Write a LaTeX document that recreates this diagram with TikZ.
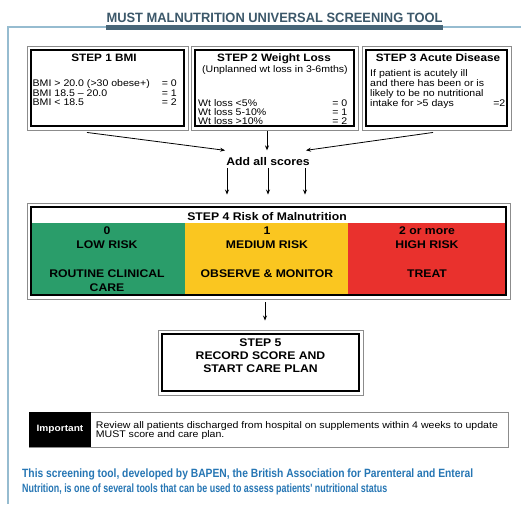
\documentclass[tikz,border=0pt]{standalone}
\usepackage{fontspec}
\setmainfont{Liberation Sans}[FakeStretch=1.1]
\newfontfamily\plainsans{Liberation Sans}
\usetikzlibrary{arrows.meta}
\definecolor{framec}{RGB}{150,188,208}
\definecolor{titlec}{RGB}{60,88,106}
\definecolor{barc}{RGB}{72,102,120}
\definecolor{riskgreen}{RGB}{42,157,106}
\definecolor{riskyellow}{RGB}{250,198,32}
\definecolor{riskred}{RGB}{233,49,45}
\definecolor{bottomblue}{RGB}{38,118,180}
\definecolor{outergray}{RGB}{140,140,140}
\begin{document}
\begin{tikzpicture}[x=1pt,y=-1pt,
  dbox/.style={draw=outergray, line width=0.9pt, inner sep=0pt,
    path picture={\draw[black,line width=1.3pt]
      ([shift={(4pt,-4pt)}]path picture bounding box.north west) rectangle
      ([shift={(-4pt,4pt)}]path picture bounding box.south east);}},
  txt/.style={font=\fontsize{9.6}{10}\selectfont, inner sep=0pt},
  sttl/.style={font=\bfseries\fontsize{10.7}{12}\selectfont, inner sep=0pt},
  bld/.style={font=\bfseries\fontsize{11.1}{12}\selectfont, inner sep=0pt},
  band/.style={inner sep=0pt, minimum height=72pt},
  foot/.style={font=\plainsans\bfseries\fontsize{12}{13}\selectfont, text=bottomblue, inner sep=0pt, anchor=base west},
  arr/.style={-{Stealth[length=5pt,width=4pt]}, line width=0.8pt}]
\useasboundingbox (0,0) rectangle (521,504);
\fill[white] (0,0) rectangle (521,504);
% frame and title
\draw[framec, line width=1.2pt] (521,27) -- (8,27) -- (8,504);
\fill[barc] (106,25) rectangle (443,29.5);
\node[font=\plainsans\bfseries\fontsize{13.5}{15}\selectfont, text=titlec, inner sep=0pt, anchor=base] (title) at (274.5,22) {\resizebox{336pt}{\height}{MUST MALNUTRITION UNIVERSAL SCREENING TOOL}};
% step boxes
\node[dbox, minimum width=161pt, minimum height=84pt] (s1) at (107.5,88) {};
\node[dbox, minimum width=167pt, minimum height=84pt] (s2) at (274.5,88) {};
\node[dbox, minimum width=149pt, minimum height=84pt] (s3) at (436.5,88) {};
% step 1 text
\node[sttl, anchor=base] (s1t) at (104,61) {STEP 1 BMI};
\node[txt, anchor=base west] (s1a) at (32.5,86.2) {BMI > 20.0 (>30 obese+)};
\node[txt, anchor=base west] (s1b) at (32.5,96.2) {BMI 18.5 -- 20.0};
\node[txt, anchor=base west] (s1c) at (32.5,105.8) {BMI < 18.5};
\node[txt, anchor=base east] (s1av) at (177,86.2) {= 0};
\node[txt, anchor=base east] (s1bv) at (177,96.2) {= 1};
\node[txt, anchor=base east] (s1cv) at (177,105.8) {= 2};
% step 2 text
\node[sttl, anchor=base] (s2t) at (274,61) {STEP 2 Weight Loss};
\node[txt, anchor=base] (s2s) at (275,72.7) {(Unplanned wt loss in 3-6mths)};
\node[txt, anchor=base west] (s2a) at (198,106.4) {Wt loss <5\%};
\node[txt, anchor=base west] (s2b) at (198,115.8) {Wt loss 5-10\%};
\node[txt, anchor=base west] (s2c) at (198,124.9) {Wt loss >10\%};
\node[txt, anchor=base east] (s2av) at (347.5,106.4) {= 0};
\node[txt, anchor=base east] (s2bv) at (347.5,115.8) {= 1};
\node[txt, anchor=base east] (s2cv) at (347.5,124.9) {= 2};
% step 3 text
\node[sttl, anchor=base] (s3t) at (438,61) {STEP 3 Acute Disease};
\node[txt, anchor=base west] (s3a) at (370,76.3) {If patient is acutely ill};
\node[txt, anchor=base west] (s3b) at (370,86.5) {and there has been or is};
\node[txt, anchor=base west] (s3c) at (370,96.7) {likely to be no nutritional};
\node[txt, anchor=base west] (s3d) at (370,106.9) {intake for >5 days};
\node[txt, anchor=base east] (s3dv) at (505.5,106.9) {=2};
% add all scores
\node[bld, anchor=base] (add) at (268,165) {Add all scores};
% step 4
\node[band, fill=riskgreen, minimum width=154pt] (bg) at (108,259) {};
\node[band, fill=riskyellow, minimum width=163pt] (by) at (266.5,259) {};
\node[band, fill=riskred, minimum width=158pt] (br) at (427,259) {};
\node[dbox, minimum width=483pt, minimum height=96pt] (s4) at (268.5,251) {};
\node[bld, anchor=base] (s4t) at (267,220.7) {STEP 4 Risk of Malnutrition};
\node[bld, anchor=base] (g1) at (107,234.7) {0};
\node[bld, anchor=base] (g2) at (107,248.7) {LOW RISK};
\node[bld, anchor=base] (g3) at (107,277) {ROUTINE CLINICAL};
\node[bld, anchor=base] (g4) at (107,291.4) {CARE};
\node[bld, anchor=base] (y1) at (267,234.7) {1};
\node[bld, anchor=base] (y2) at (267,248.7) {MEDIUM RISK};
\node[bld, anchor=base] (y3) at (267,277) {OBSERVE \& MONITOR};
\node[bld, anchor=base] (r1) at (427,234.7) {2 or more};
\node[bld, anchor=base] (r2) at (427,248.7) {HIGH RISK};
\node[bld, anchor=base] (r3) at (427,277) {TREAT};
% step 5
\node[dbox, minimum width=205pt, minimum height=65pt] (s5) at (260.5,362.5) {};
\node[bld, anchor=base] (s5a) at (260.5,346.4) {STEP 5};
\node[bld, anchor=base] (s5b) at (260.5,359.4) {RECORD SCORE AND};
\node[bld, anchor=base] (s5c) at (260.5,372.7) {START CARE PLAN};
% important
\node[draw=outergray, line width=0.8pt, minimum width=479pt, minimum height=35pt, inner sep=0pt] (imp) at (268.5,429.5) {};
\node[fill=black, text=white, font=\bfseries\fontsize{9.2}{10}\selectfont, minimum width=62pt, minimum height=35pt, inner sep=0pt] (impl) at (60,429.5) {Important};
\node[txt, anchor=base west] (imp1) at (95.7,428) {Review all patients discharged from hospital on supplements within 4 weeks to update};
\node[txt, anchor=base west] (imp2) at (95.7,437.2) {MUST score and care plan.};
% bottom text
\node[foot] (foot1) at (22,477) {\resizebox{451pt}{\height}{This screening tool, developed by BAPEN, the British Association for Parenteral and Enteral}};
\node[foot] (foot2) at (22,492.5) {\resizebox{365pt}{\height}{Nutrition, is one of several tools that can be used to assess patients' nutritional status}};
% connectors
\draw[arr] ([shift={(-20.5,2)}]s1.south) -- ([shift={(-1,-6.4)}]add.north west);
\draw[arr] ([shift={(-7.5,1)}]s2.south) -- ([shift={(-1,-6.4)}]add.north);
\draw[arr] ([shift={(-3.5,2)}]s3.south) -- ([shift={(-4,-6.4)}]add.north east);
\draw[arr] ([shift={(-41,3)}]add.south) -- ([shift={(-41.5,-8)}]s4.north);
\draw[arr] ([shift={(0,3)}]add.south) -- ([shift={(-0.5,-8)}]s4.north);
\draw[arr] ([shift={(37,3)}]add.south) -- ([shift={(36.5,-8)}]s4.north);
\draw[arr] ([shift={(-3.5,3)}]s4.south) -- ([shift={(4.5,-9)}]s5.north);
\end{tikzpicture}
\end{document}
